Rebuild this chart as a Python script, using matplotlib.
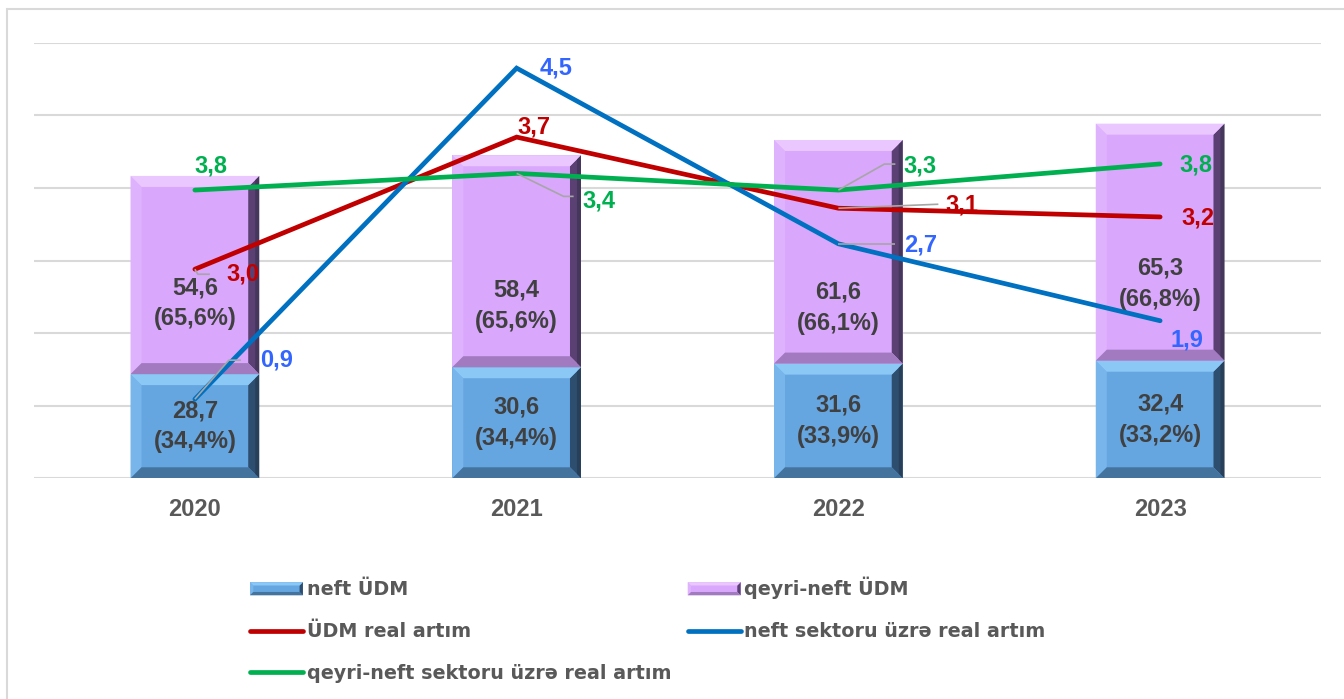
import matplotlib
matplotlib.use("Agg")
import matplotlib.pyplot as plt
from matplotlib.patches import Polygon, Rectangle, Patch
from matplotlib.lines import Line2D
from matplotlib.legend_handler import HandlerBase
from matplotlib.font_manager import FontProperties

plt.rcParams['font.family'] = ['Liberation Sans', 'DejaVu Sans']

# ---------------- data ----------------
years = ['2020', '2021', '2022', '2023']
oil_gdp = [28.7, 30.6, 31.6, 32.4]          # neft ÜDM
nonoil_gdp = [54.6, 58.4, 61.6, 65.3]       # qeyri-neft ÜDM
oil_share = [34.4, 34.4, 33.9, 33.2]
nonoil_share = [65.6, 65.6, 66.1, 66.8]

# growth lines: heights as drawn on the (hidden) secondary axis
gdp_growth = [2.88, 4.70, 3.72, 3.60]        # ÜDM real artım
oil_growth = [1.09, 5.65, 3.23, 2.17]        # neft sektoru üzrə real artım
nonoil_growth = [3.97, 4.20, 3.97, 4.33]     # qeyri-neft sektoru üzrə real artım
# growth labels as printed
gdp_growth_lbl = ['3,0', '3,7', '3,1', '3,2']
oil_growth_lbl = ['0,9', '4,5', '2,7', '1,9']
nonoil_growth_lbl = ['3,8', '3,4', '3,3', '3,8']

legend_labels = ['neft ÜDM', 'qeyri-neft ÜDM', 'ÜDM real artım',
                 'neft sektoru üzrə real artım', 'qeyri-neft sektoru üzrə real artım']

# ---------------- style / layout ----------------
W, H = 1344, 699
BLUE = '#65A5E0'
PURP = '#D9A7FC'
BLUE_BEV = ['#78B5EA', '#2E4E70', '#8CC8F5', '#44739D']   # left, right, top, bottom
PURP_BEV = ['#DFB2FE', '#5A4073', '#EBC7FF', '#A17AC0']
RED, LBLUE, GREEN = '#C00000', '#0070C0', '#00B050'
LBL_BLUE = '#3366FF'
GRID = '#D9D9D9'
LEADER = '#A6A6A6'

nonoil_lbl_y = [48.2, 47.5, 47.0, 53.6]   # label placement inside purple segments

gdp_off = [(48, -5), (17, 10), (124, 3), (38, -1)]
oil_off = [(82, 39), (39, 0), (82, -1), (27, -19)]
nonoil_off = [(16, 24), (82, -28), (82, 24), (36, -1)]
leaders = {
    ('gdp', 0): [(0, 0), (3, -5), (15, -5)],
    ('gdp', 2): [(0, 0), (100, 4)],
    ('oil', 0): [(0, 0), (34, 39), (46, 39)],
    ('oil', 2): [(0, 0), (57, 0)],
    ('nonoil', 1): [(0, 0), (47, -23), (57, -23)],
    ('nonoil', 2): [(0, 0), (46, 26), (57, 26)],
}
FS = 17

fig = plt.figure(figsize=(W / 100, H / 100), dpi=100)
fig.patch.set_facecolor('white')
fig.add_artist(Rectangle((7 / W, -0.02), 1.2, 1.02 - 9.3 / H, transform=fig.transFigure,
                         fill=False, ec=GRID, lw=1.5))

ax = fig.add_axes([34 / W, 1 - 478.3 / H, (1321 - 34) / W, (478.3 - 42.7) / H])
xs = list(range(len(years)))
ax.set_xlim(-0.5, len(years) - 0.5)
ax.set_ylim(0, 120)
ax.set_yticks(range(0, 121, 20))
ax.yaxis.grid(True, color=GRID, lw=1.5)
ax.set_axisbelow(True)
for s in ax.spines.values():
    s.set_visible(False)
ax.tick_params(axis='y', length=0, labelleft=False)
ax.set_xticks(xs)
ax.set_xticklabels(years, fontsize=FS, fontweight='bold', color='#595959')
ax.tick_params(axis='x', length=0, pad=14)

bars1 = ax.bar(xs, oil_gdp, 0.4, color=BLUE, zorder=2)
bars2 = ax.bar(xs, nonoil_gdp, 0.4, bottom=oil_gdp, color=PURP, zorder=2)


def bevel(patch, cols, bpx=11):
    x0, y0 = patch.get_x(), patch.get_y()
    x1, y1 = x0 + patch.get_width(), y0 + patch.get_height()
    p0 = ax.transData.transform((0, 0))
    p1 = ax.transData.transform((1, 1))
    bx = bpx / (p1[0] - p0[0])
    by = bpx / (p1[1] - p0[1])
    left = [(x0, y0), (x0, y1), (x0 + bx, y1 - by), (x0 + bx, y0 + by)]
    right = [(x1, y0), (x1, y1), (x1 - bx, y1 - by), (x1 - bx, y0 + by)]
    top = [(x0, y1), (x1, y1), (x1 - bx, y1 - by), (x0 + bx, y1 - by)]
    bottom = [(x0, y0), (x1, y0), (x1 - bx, y0 + by), (x0 + bx, y0 + by)]
    for pts, c in zip([left, right, top, bottom], cols):
        ax.add_patch(Polygon(pts, closed=True, fc=c, ec='none', zorder=2.1))
    # darker outer strip on the right side for the shaded look
    ex = 4 / (p1[0] - p0[0])
    ax.add_patch(Polygon([(x1, y0), (x1, y1), (x1 - ex, y1 - ex * (by / bx)), (x1 - ex, y0 + ex * (by / bx))],
                         closed=True, fc='#1E2433', alpha=0.35, ec='none', zorder=2.15))


for p in bars1:
    bevel(p, BLUE_BEV)
for p in bars2:
    bevel(p, PURP_BEV)

fmt = lambda v: f"{v:.1f}".replace('.', ',')
for i in xs:
    ax.text(i, oil_gdp[i] / 2, f"{fmt(oil_gdp[i])}\n({fmt(oil_share[i])}%)", ha='center', va='center',
            fontsize=FS, fontweight='bold', color='#404040', linespacing=1.45, zorder=2.5)
    ax.text(i, nonoil_lbl_y[i], f"{fmt(nonoil_gdp[i])}\n({fmt(nonoil_share[i])}%)", ha='center',
            va='center', fontsize=FS, fontweight='bold', color='#404040', linespacing=1.45, zorder=2.5)

ax2 = ax.twinx()
ax2.set_ylim(0, 6)
ax2.axis('off')

series = [('gdp', gdp_growth, gdp_growth_lbl, gdp_off, RED, RED),
          ('oil', oil_growth, oil_growth_lbl, oil_off, LBLUE, LBL_BLUE),
          ('nonoil', nonoil_growth, nonoil_growth_lbl, nonoil_off, GREEN, GREEN)]

for key, vals, lbls, offs, lc, tc in series:
    ax2.plot(xs, vals, color=lc, lw=3.4, solid_capstyle='round', solid_joinstyle='miter', zorder=3)
    for i in xs:
        ax2.annotate(lbls[i], xy=(i, vals[i]), xytext=offs[i], textcoords='offset pixels',
                     ha='center', va='center', fontsize=FS, fontweight='bold', color=tc, zorder=2.5)

for key, vals, lbls, offs, lc, tc in series:
    for i in xs:
        if (key, i) in leaders:
            px, py = ax2.transData.transform((i, vals[i]))
            pts = leaders[(key, i)]
            fx = [(px + dx) / W for dx, dy in pts]
            fy = [(py + dy) / H for dx, dy in pts]
            fig.add_artist(Line2D(fx, fy, transform=fig.transFigure, color=LEADER, lw=1.2,
                                  solid_capstyle='butt'))


class BevelHandler(HandlerBase):
    def __init__(self, face, cols):
        super().__init__()
        self.face = face
        self.cols = cols

    def create_artists(self, legend, orig_handle, xdescent, ydescent, width, height, fontsize, trans):
        x0, y0 = -xdescent, -ydescent
        x1, y1 = x0 + width, y0 + height
        b = 2.4
        arts = [Rectangle((x0, y0), width, height, fc=self.face, ec='none', transform=trans)]
        left = [(x0, y0), (x0, y1), (x0 + b, y1 - b), (x0 + b, y0 + b)]
        right = [(x1, y0), (x1, y1), (x1 - b, y1 - b), (x1 - b, y0 + b)]
        top = [(x0, y1), (x1, y1), (x1 - b, y1 - b), (x0 + b, y1 - b)]
        bottom = [(x0, y0), (x1, y0), (x1 - b, y0 + b), (x0 + b, y0 + b)]
        for pts, c in zip([left, right, top, bottom], self.cols):
            arts.append(Polygon(pts, closed=True, fc=c, ec='none', transform=trans))
        return arts


h_oil = Patch(fc=BLUE)
h_nonoil = Patch(fc=PURP)
h_gdp = Line2D([], [], color=RED, lw=3.4, solid_capstyle='round')
h_oilg = Line2D([], [], color=LBLUE, lw=3.4, solid_capstyle='round')
h_nonoilg = Line2D([], [], color=GREEN, lw=3.4, solid_capstyle='round')

handles = [h_oil, h_gdp, h_nonoilg, h_nonoil, h_oilg]
labels = [legend_labels[0], legend_labels[2], legend_labels[4], legend_labels[1], legend_labels[3]]
fig.legend(handles, labels, ncol=2, loc='upper left', bbox_to_anchor=(250 / W, 1 - 577 / H),
           frameon=False, prop=FontProperties(family='DejaVu Sans', weight='bold', size=13.8),
           labelcolor='#595959', handlelength=2.76, handleheight=0.68, handletextpad=0.2,
           columnspacing=0.86, labelspacing=1.19, borderpad=0, borderaxespad=0,
           handler_map={h_oil: BevelHandler(BLUE, BLUE_BEV), h_nonoil: BevelHandler(PURP, PURP_BEV)})

fig.savefig('out.png', dpi=100)
